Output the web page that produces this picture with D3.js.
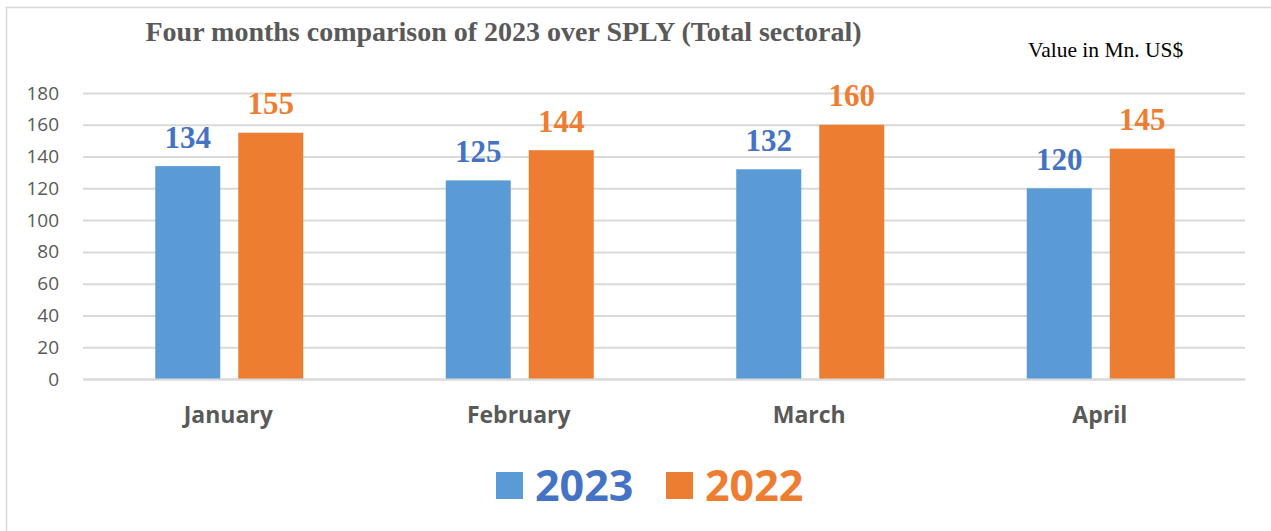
<!DOCTYPE html>
<html><head><meta charset="utf-8">
<script src="https://cdn.jsdelivr.net/npm/d3@7"></script>
<style>body{margin:0;background:#fff}svg{display:block}</style>
</head><body>
<script>
const categories = ["January","February","March","April"];
const series2023 = [134,125,132,120];
const series2022 = [155,144,160,145];
const seriesNames = ["2023","2022"];
const yTicks = [0,20,40,60,80,100,120,140,160,180];

const W=1271,H=531;
const svg=d3.select("body").append("svg").attr("width",W).attr("height",H);
svg.append("rect").attr("x",6.5).attr("y",7.5).attr("width",1300).attr("height",600)
  .attr("fill","#fff").attr("stroke","#d9d9d9").attr("stroke-width",1.5);

const colors=["#5B9BD5","#ED7D31"];
const labelColors=["#4472C4","#ED7D31"];
const x0=d3.scaleBand().domain(categories).range([83,1245]).paddingInner(0).paddingOuter(0);
const y=d3.scaleLinear().domain([0,180]).range([379,93]);

const gy=svg.append("g").attr("transform","translate(83,0)")
  .call(d3.axisLeft(y).tickValues(yTicks).tickSize(-(1245-83)).tickPadding(24));
gy.select(".domain").remove();
gy.selectAll(".tick line").attr("stroke","#d9d9d9").attr("stroke-width",2);
gy.selectAll(".tick text").attr("fill","#595959").attr("font-family","'Open Sans', sans-serif").attr("font-size",19);

const barW=65, gap=18;
const offsets=[-(gap/2+barW), gap/2];
const data=categories.map((c,i)=>({c,vals:[series2023[i],series2022[i]]}));
const g=svg.append("g");
data.forEach(d=>{
  const cx=x0(d.c)+x0.bandwidth()/2+1;
  d.vals.forEach((v,k)=>{
    g.append("rect").attr("x",cx+offsets[k]).attr("y",y(v)).attr("width",barW)
      .attr("height",y(0)-y(v)).attr("fill",colors[k]);
    g.append("text").attr("x",cx+offsets[k]+barW/2).attr("y",y(v)-18.5)
      .attr("text-anchor","middle").attr("fill",labelColors[k])
      .attr("font-family","'Liberation Serif','Times New Roman',serif").attr("font-weight","bold")
      .attr("font-size",31).text(v);
  });
});

const gx=svg.append("g").attr("transform","translate(0,379)")
  .call(d3.axisBottom(x0).tickSize(0).tickPadding(28));
gx.select(".domain").attr("stroke","#d9d9d9").attr("stroke-width",2);
gx.selectAll(".tick text").attr("fill","#595959").attr("font-family","'Open Sans', sans-serif")
  .attr("font-weight","bold").attr("font-size",23);

svg.append("text").attr("x",503.5).attr("y",41).attr("text-anchor","middle")
  .attr("fill","#595959").attr("font-family","'Liberation Serif','Times New Roman',serif")
  .attr("font-weight","bold").attr("font-size",28)
  .text("Four months comparison of 2023 over SPLY (Total sectoral)");
svg.append("text").attr("x",1028).attr("y",57)
  .attr("fill","#000").attr("font-family","'Liberation Serif','Times New Roman',serif")
  .attr("font-size",21.5).text("Value in Mn. US$");

const legX=[496,666];
seriesNames.forEach((s,k)=>{
  svg.append("rect").attr("x",legX[k]).attr("y",472).attr("width",27).attr("height",27).attr("fill",colors[k]);
  svg.append("text").attr("x",legX[k]+39).attr("y",501).attr("fill",labelColors[k])
    .attr("font-family","'Open Sans', sans-serif").attr("font-weight","bold")
    .attr("font-size",43).text(s);
});
</script>
</body></html>
